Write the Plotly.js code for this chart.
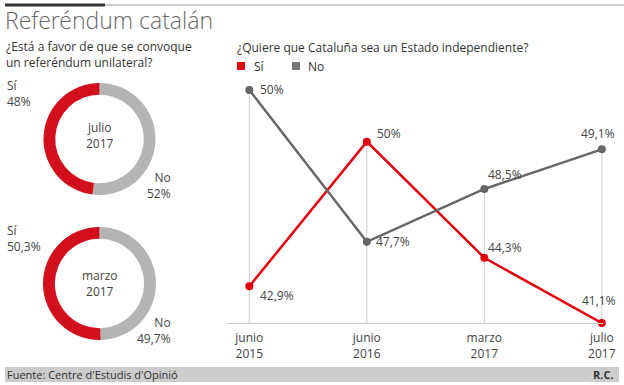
<!DOCTYPE html>
<html>
<head>
<meta charset="utf-8">
<script src="https://cdn.plot.ly/plotly-3.0.1.min.js"></script>
<style>html,body{margin:0;padding:0;background:#fff;}#chart{width:624px;height:385px;}</style>
</head>
<body>
<div id="chart"></div>
<script>
// ---- data ----
const categories = ['junio<br>2015', 'junio<br>2016', 'marzo<br>2017', 'julio<br>2017'];
const siValues = [42.9, 50, 44.3, 41.1];
const noValues = [50, 47.7, 48.5, 49.1];
const donutLabels = ['Sí', 'No'];
const donutJulio2017 = [48, 52];
const donutMarzo2017 = [50.3, 49.7];
const donutNames = ['julio<br>2017', 'marzo<br>2017'];

// ---- helpers ----
const W = 624, H = 385;
const px = x => x / W;
const py = y => 1 - y / H;
const fmt = v => String(v).replace('.', ',') + '%';

const RED_LINE = '#e3000f', GRAY_LINE = '#666666';
const RED_DONUT = '#d20f1c', GRAY_DONUT = '#b4b4b4';
const FONT = 'Open Sans, Noto Sans, sans-serif';

const siRange = [41.1, 53.03];
const noRange = [46.47, 50.15];

const traces = [];

function donut(values, yTop, yBot) {
  // "No" runs clockwise from 12 o'clock on the right, "Sí" fills the left
  return {
    type: 'pie', values: [values[1], values[0]], labels: [donutLabels[1], donutLabels[0]], sort: false,
    direction: 'clockwise', rotation: 0, hole: 0.79,
    marker: {colors: [GRAY_DONUT, RED_DONUT], line: {width: 0}},
    textinfo: 'none', hoverinfo: 'none', showlegend: false,
    domain: {x: [px(43), px(156)], y: [py(yBot), py(yTop)]}
  };
}
traces.push(donut(donutJulio2017, 83, 195));
traces.push(donut(donutMarzo2017, 227, 340));

traces.push({
  type: 'scatter', mode: 'lines+markers', x: categories, y: noValues, yaxis: 'y2',
  line: {color: GRAY_LINE, width: 2.5}, marker: {color: GRAY_LINE, size: 8},
  cliponaxis: false, showlegend: false, hoverinfo: 'none'
});
traces.push({
  type: 'scatter', mode: 'lines+markers', x: categories, y: siValues, yaxis: 'y',
  line: {color: RED_LINE, width: 2.5}, marker: {color: RED_LINE, size: 8},
  cliponaxis: false, showlegend: false, hoverinfo: 'none'
});

// drop lines from the higher point (in screen terms) down to baseline
const shapes = [];
categories.forEach((c, i) => {
  const fs = (siValues[i] - siRange[0]) / (siRange[1] - siRange[0]);
  const fn = (noValues[i] - noRange[0]) / (noRange[1] - noRange[0]);
  if (fs >= fn) {
    shapes.push({type: 'line', xref: 'x', yref: 'y', x0: c, x1: c, y0: siRange[0], y1: siValues[i], line: {color: '#cfcfcf', width: 1}, layer: 'below'});
  } else {
    shapes.push({type: 'line', xref: 'x', yref: 'y2', x0: c, x1: c, y0: noRange[0], y1: noValues[i], line: {color: '#cfcfcf', width: 1}, layer: 'below'});
  }
});
// header rules
shapes.push({type: 'line', xref: 'paper', yref: 'paper', x0: px(105), x1: px(624), y0: py(5), y1: py(5), line: {color: '#cccccc', width: 2}});
shapes.push({type: 'line', xref: 'paper', yref: 'paper', x0: px(5), x1: px(105), y0: py(5), y1: py(5), line: {color: '#333333', width: 3}});
// legend squares
shapes.push({type: 'rect', xref: 'paper', yref: 'paper', x0: px(237), x1: px(245), y0: py(70), y1: py(62), fillcolor: RED_LINE, line: {width: 0}});
shapes.push({type: 'rect', xref: 'paper', yref: 'paper', x0: px(292), x1: px(300), y0: py(70), y1: py(62), fillcolor: '#777777', line: {width: 0}});
// footer bar
shapes.push({type: 'rect', xref: 'paper', yref: 'paper', x0: px(5), x1: px(619), y0: py(382), y1: py(367), fillcolor: '#cccccc', line: {width: 0}, layer: 'below'});

function ann(text, x, y, opts) {
  return Object.assign({text: text, xref: 'paper', yref: 'paper', x: px(x), y: py(y), showarrow: false,
    xanchor: 'left', yanchor: 'middle', font: {family: FONT, size: 12, color: '#333'}}, opts || {});
}
const annotations = [
  ann('Referéndum catalán', 3, 20, {font: {family: 'Open Sans Light, Open Sans, sans-serif', size: 23, color: '#666', weight: 300}}),
  ann('¿Está a favor de que se convoque<br>un referéndum unilateral?', 4, 55, {align: 'left', font: {family: FONT, size: 12, color: '#333'}}),
  ann('¿Quiere que Cataluña sea un Estado independiente?', 235, 47),
  ann('Sí', 252, 66),
  ann('No', 306, 66),
  // donut labels
  ann(donutLabels[0] + '<br>' + fmt(donutJulio2017[0]), 5, 94, {align: 'left', font: {family: FONT, size: 12, color: '#444'}}),
  ann(donutLabels[1] + '<br>' + fmt(donutJulio2017[1]), 173, 185, {xanchor: 'right', align: 'right', font: {family: FONT, size: 12, color: '#444'}}),
  ann(donutNames[0], 99.5, 135, {xanchor: 'center', align: 'center', font: {family: FONT, size: 12, color: '#444'}}),
  ann(donutLabels[0] + '<br>' + fmt(donutMarzo2017[0]), 5, 238, {align: 'left', font: {family: FONT, size: 12, color: '#444'}}),
  ann(donutLabels[1] + '<br>' + fmt(donutMarzo2017[1]), 173, 330, {xanchor: 'right', align: 'right', font: {family: FONT, size: 12, color: '#444'}}),
  ann(donutNames[1], 99.5, 283.5, {xanchor: 'center', align: 'center', font: {family: FONT, size: 12, color: '#444'}}),
  // footer
  ann('Fuente: Centre d\'Estudis d\'Opinió', 5, 374.5, {font: {family: FONT, size: 11, color: '#333'}}),
  ann('<b>R.C.</b>', 616, 374.5, {xanchor: 'right', font: {family: FONT, size: 11, color: '#333'}}),
  ann('::', 596, 374.5, {xanchor: 'right', font: {family: FONT, size: 9, color: '#eeeeee'}})
];

// point value labels, placed through the data axes
const labelStyle = {family: FONT, size: 12, color: '#444'};
const noOffsets = [[9, 0, 'left'], [7, 0, 'left'], [2, 14, 'left'], [-4, 16, 'center']];
const siOffsets = [[9, -9, 'left'], [8, 8, 'left'], [2, 10, 'left'], [-3, 23, 'center']];
categories.forEach((c, i) => {
  annotations.push({text: fmt(noValues[i]), xref: 'x', yref: 'y2', x: c, y: noValues[i], showarrow: false,
    xanchor: noOffsets[i][2], yanchor: 'middle', xshift: noOffsets[i][0], yshift: noOffsets[i][1], font: labelStyle});
  annotations.push({text: fmt(siValues[i]), xref: 'x', yref: 'y', x: c, y: siValues[i], showarrow: false,
    xanchor: siOffsets[i][2], yanchor: 'middle', xshift: siOffsets[i][0], yshift: siOffsets[i][1], font: labelStyle});
});

const layout = {
  width: W, height: H, margin: {l: 0, r: 0, t: 0, b: 0}, paper_bgcolor: '#fff', plot_bgcolor: 'rgba(0,0,0,0)',
  font: {family: FONT, color: '#333'},
  showlegend: false,
  xaxis: {domain: [px(227), px(603)], type: 'category', range: [-0.19, 3.01], showline: true, linecolor: '#cccccc', linewidth: 1,
    showgrid: false, zeroline: false, ticks: '', ticklabelstandoff: 4, tickfont: {family: FONT, size: 12, color: '#444'}, automargin: false, fixedrange: true},
  yaxis: {domain: [py(323), py(80)], range: siRange, visible: false, fixedrange: true},
  yaxis2: {overlaying: 'y', range: noRange, visible: false, fixedrange: true},
  shapes: shapes, annotations: annotations
};

Plotly.newPlot('chart', traces, layout, {staticPlot: true, displayModeBar: false});
</script>
</body>
</html>
